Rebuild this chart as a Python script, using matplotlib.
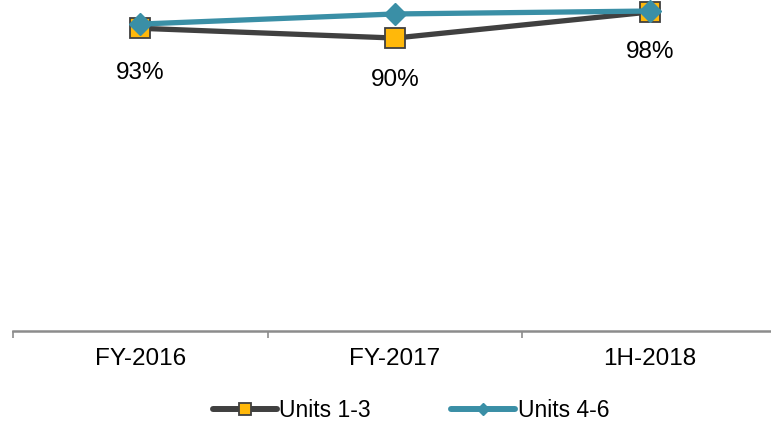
import numpy as np
import matplotlib
matplotlib.use("Agg")
import matplotlib.pyplot as plt

plt.rcParams['font.family'] = ['Liberation Sans', 'DejaVu Sans']

categories = ["FY-2016", "FY-2017", "1H-2018"]
units_1_3 = [93, 90, 98]
units_4_6 = [94.3, 97.4, 98.3]
labels_1_3 = ["93%", "90%", "98%"]

dark = "#404040"
yellow = "#FFB80A"
teal = "#3A8FA6"

W, H = 771, 422
fig = plt.figure(figsize=(W / 100, H / 100), dpi=100)
ax = fig.add_axes([13 / W, (H - 331) / H, 764 / W, (331 - 5.5) / H])

x = np.arange(len(categories))
ax.plot(x, units_1_3, color=dark, lw=3.8, marker='s', ms=14,
        mfc=yellow, mec=dark, mew=1.3, label="Units 1-3",
        clip_on=False, zorder=3, solid_capstyle='round')
ax.plot(x, units_4_6, color=teal, lw=3.8, marker='D', ms=11,
        mfc=teal, mec=teal, label="Units 4-6",
        clip_on=False, zorder=4, solid_capstyle='round')

offsets = [-45, -42, -40]
for xi, v, lab, off in zip(x, units_1_3, labels_1_3, offsets):
    ax.annotate(lab, (xi, v), xytext=(0, off * 0.72), textcoords='offset points',
                ha='center', va='center', fontsize=17.5, color='black')

ax.set_xlim(-0.5, 2.5)
ax.set_ylim(0, 100)
ax.set_yticks([])
for s in ['top', 'right', 'left']:
    ax.spines[s].set_visible(False)
ax.spines['bottom'].set_color('#8C8C8C')
ax.spines['bottom'].set_linewidth(1.8)

ax.set_xticks([-0.5, 0.5, 1.5, 2.5])
ax.set_xticklabels([])
ax.set_xticks(x, minor=True)
ax.set_xticklabels(categories, minor=True, fontsize=17.5)
ax.tick_params(axis='x', which='major', length=5, width=1.2, color='#8C8C8C',
               direction='out')
ax.tick_params(axis='x', which='minor', length=0, pad=12)

leg = fig.legend(loc='lower center', bbox_to_anchor=(0.533, -0.05), ncol=2,
                 frameon=False, fontsize=16.5, handlelength=2.8,
                 handletextpad=0.1, columnspacing=3.5, markerscale=0.6)
for line in leg.get_lines():
    line.set_linewidth(4.3)

fig.savefig("out.png", dpi=100)
